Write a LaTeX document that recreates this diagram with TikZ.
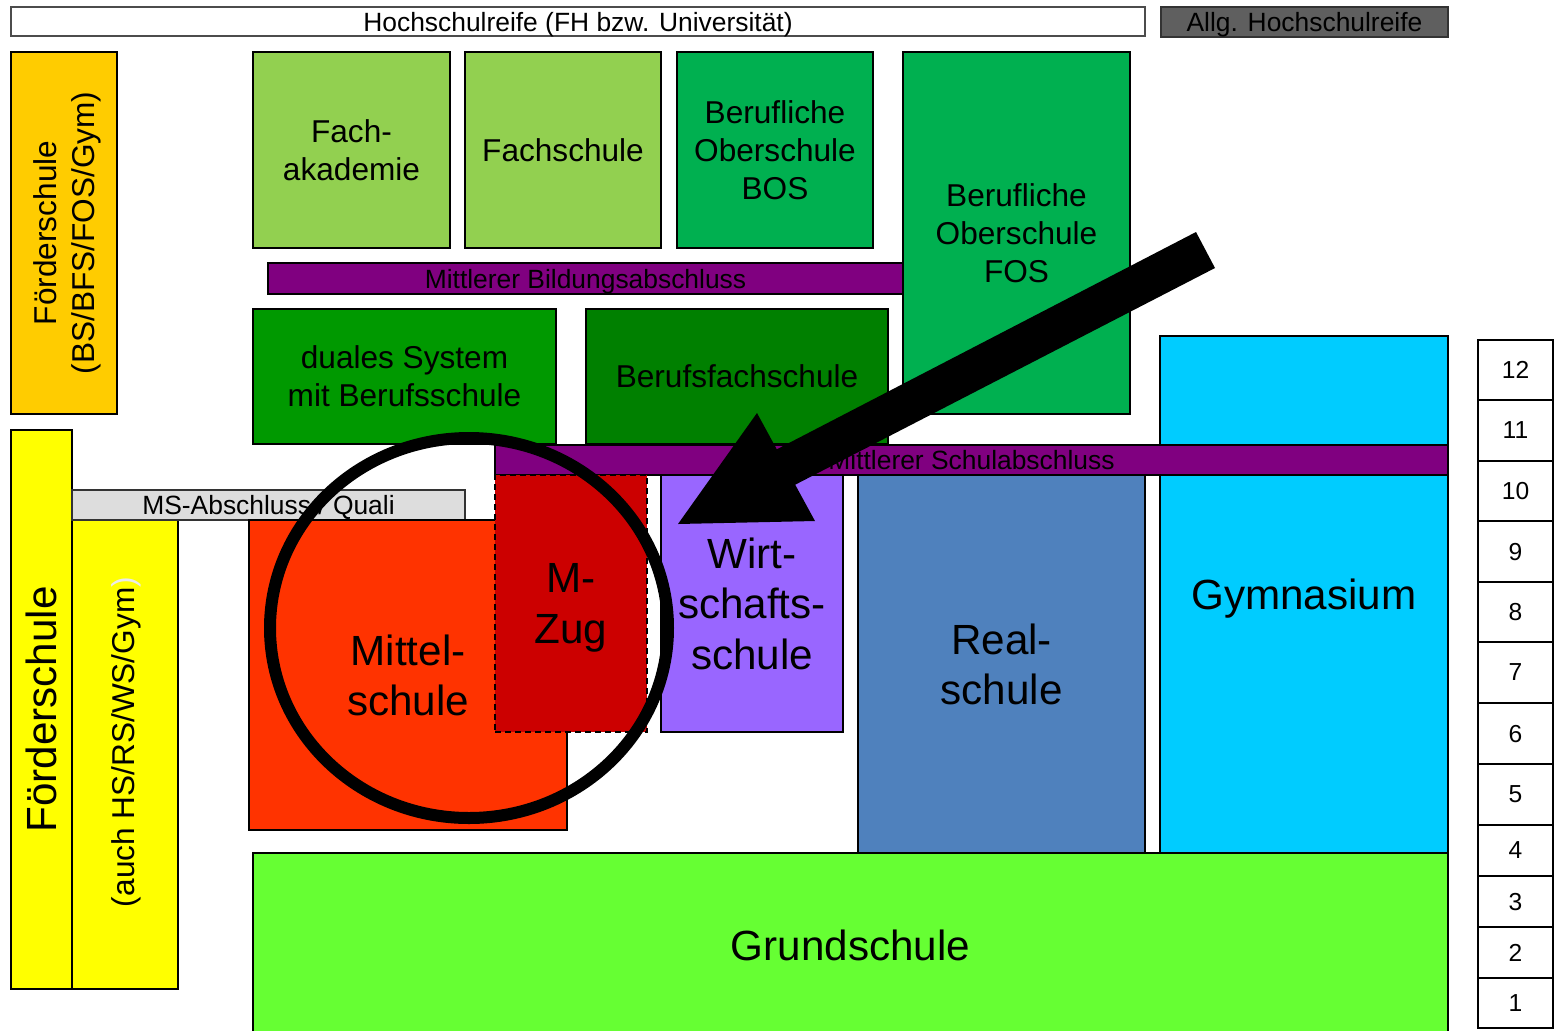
\documentclass[tikz,border=0pt]{standalone}
\usepackage{fontspec}
\setmainfont{Liberation Sans}
\usetikzlibrary{shapes.geometric}
\definecolor{cOrange}{HTML}{FFCC00}
\definecolor{cFach}{HTML}{92D050}
\definecolor{cBO}{HTML}{00B050}
\definecolor{cPurple}{HTML}{800080}
\definecolor{cDual}{HTML}{009900}
\definecolor{cBFS}{HTML}{008000}
\definecolor{cGym}{HTML}{00CCFF}
\definecolor{cYellow}{HTML}{FFFF00}
\definecolor{cGray}{HTML}{DDDDDD}
\definecolor{cMit}{HTML}{FF3300}
\definecolor{cMZ}{HTML}{CC0000}
\definecolor{cWis}{HTML}{9966FF}
\definecolor{cReal}{HTML}{4F81BD}
\definecolor{cGrund}{HTML}{66FF33}
\definecolor{cAllg}{HTML}{5F5F5F}
\tikzset{
  box/.style={draw=black, line width=1pt, inner sep=0pt, outer sep=0pt, align=center,
    text depth=0pt, font=\fontsize{15.8}{19}\selectfont},
  smalltext/.style={font=\fontsize{13.2}{15.8}\selectfont},
  largetext/.style={font=\fontsize{21.1}{25.3}\selectfont},
  gradetext/.style={font=\fontsize{12.3}{14}\selectfont},
  ring/.style={draw=black, line width=6pt, ellipse, inner sep=0pt},
  bigarrow/.style={fill=black},
}
% box from (x1,y1) to (x2,y2) in pixel units
\newcommand\bx[7]{\node[box,#6,minimum width={(#4-#2)*0.5pt},minimum height={(#5-#3)*0.5pt}] (#1) at ({(#2+#4)/2},{(#3+#5)/2}) {#7};}
% rotated box (text reads bottom to top)
\newcommand\bxr[7]{\node[box,#6,rotate=90,minimum width={(#5-#3)*0.5pt},minimum height={(#4-#2)*0.5pt}] (#1) at ({(#2+#4)/2},{(#3+#5)/2}) {#7};}
\begin{document}
\begin{tikzpicture}[x=0.5pt,y=-0.5pt]
\useasboundingbox (0,0) rectangle (1555,1030);
% top row
\bx{hsr}{11}{7}{1145}{36}{fill=white,draw=black!70,smalltext}{Hochschulreife (FH bzw. Universität)}
\bx{ahr}{1161}{7}{1448}{37}{fill=cAllg,draw=black!80,smalltext}{Allg. Hochschulreife}
% upper blocks
\bxr{fso}{11}{52}{117}{414}{fill=cOrange}{Förderschule\\(BS/BFS/FOS/Gym)}
\bx{fak}{253}{52}{450}{248}{fill=cFach}{Fach-\\akademie}
\bx{fsch}{465}{52}{661}{248}{fill=cFach}{Fachschule}
\bx{bos}{677}{52}{873}{248}{fill=cBO}{Berufliche\\Oberschule\\BOS}
\bx{fos}{903}{52}{1130}{414}{fill=cBO}{Berufliche\\Oberschule\\FOS}
\bx{mba}{268}{263}{903}{294}{fill=cPurple,smalltext}{Mittlerer Bildungsabschluss}
\bx{dual}{253}{309}{556}{444}{fill=cDual}{duales System\\mit Berufsschule}
\bx{bfs}{586}{309}{888}{444}{fill=cBFS}{Berufsfachschule}
\bx{gym}{1160}{336}{1448}{853}{fill=cGym,largetext}{Gymnasium}
\bx{msa}{495}{445}{1448}{475}{fill=cPurple,smalltext}{Mittlerer Schulabschluss}
% left yellow blocks
\bxr{fy1}{11}{430}{72}{989}{fill=cYellow,largetext}{Förderschule}
\bx{fy2}{72}{520}{178}{989}{fill=cYellow}{}
\node[rotate=90, inner sep=0pt, font=\fontsize{15.8}{19}\selectfont] (fy2t) at (126,742) {(auch HS/RS/WS/Gym{\color{black!8})}};
\bx{msq}{72}{490}{465}{520}{fill=cGray,draw=black!80,smalltext}{MS-Abschluss / Quali}
% secondary schools
\bx{mit}{249}{520}{567}{830}{fill=cMit,largetext}{Mittel-\\schule}
\bx{mzug}{495}{475}{647}{732}{fill=cMZ,dash pattern=on 3pt off 2pt,largetext}{M-\\Zug}
\bx{wis}{661}{475}{843}{732}{fill=cWis,largetext}{Wirt-\\schafts-\\schule}
\bx{real}{858}{475}{1145}{853}{fill=cReal,largetext}{Real-\\schule}
\bx{grund}{253}{853}{1448}{1037}{fill=cGrund,largetext}{Grundschule}
% grade column
\foreach \g/\a/\b in {12/340/400,11/400/461,10/461/521,9/521/582,8/582/642,7/642/703,6/703/764,5/764/825,4/825/876,3/876/927,2/927/978,1/978/1028}{
  \bx{g\g}{1478}{\a}{1553}{\b}{fill=white,gradetext}{\g}
}
% highlight ring
\node[ring, minimum width=199pt, minimum height=190pt] (hl) at (469,628) {};
% big arrow
\coordinate (tip) at (678,524);
\coordinate (h1) at (757,413);
\coordinate (s1) at (776.8,449.3);
\coordinate (t1) at (1196,232);
\coordinate (t2) at (1215,268);
\coordinate (s2) at (795.2,484.7);
\coordinate (h2) at (815,521);
\fill[bigarrow] (tip) -- (h1) -- (s1) -- (t1) -- (t2) -- (s2) -- (h2) -- cycle;
\end{tikzpicture}
\end{document}
